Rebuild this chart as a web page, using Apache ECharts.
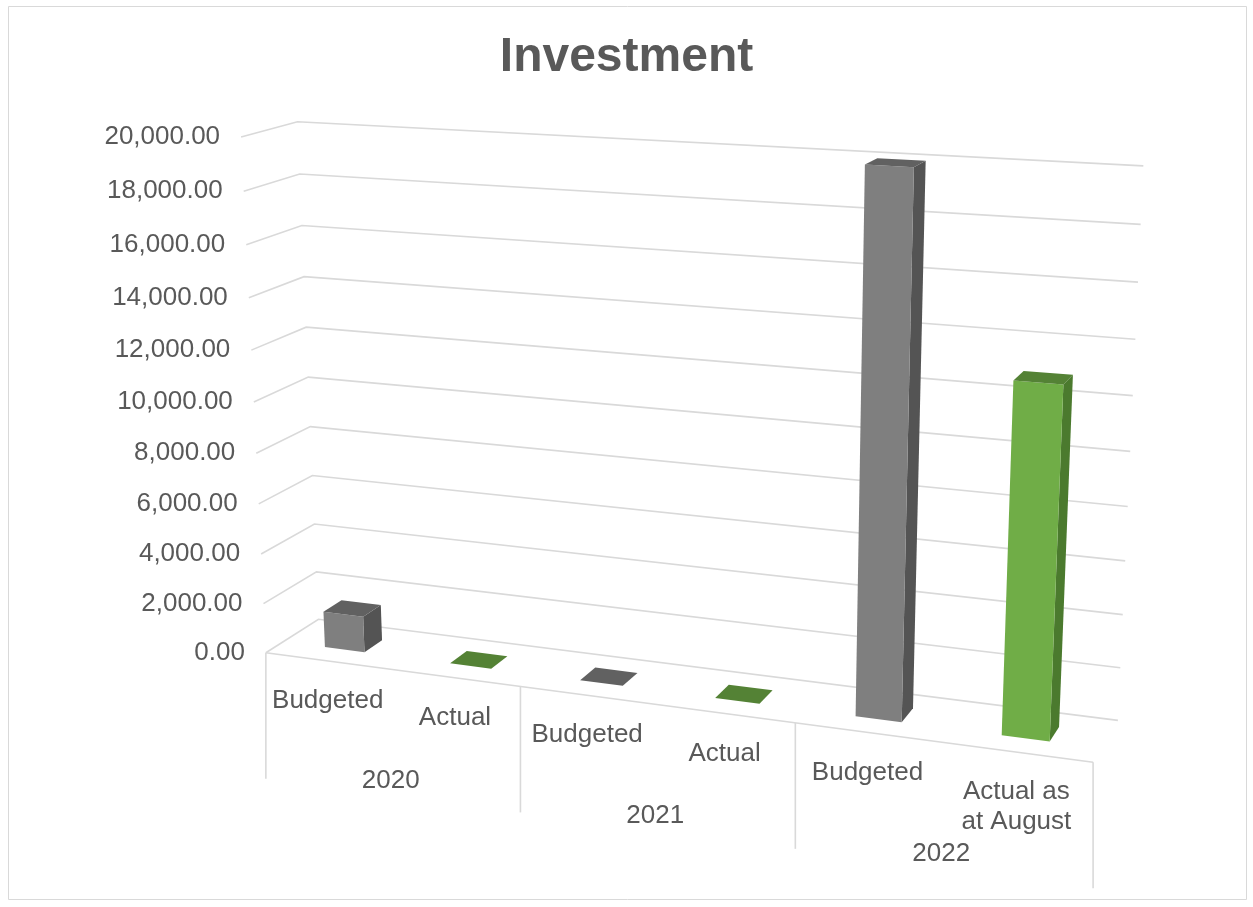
<!DOCTYPE html>
<html>
<head>
<meta charset="utf-8">
<title>Investment</title>
<script src="https://cdn.jsdelivr.net/npm/echarts@6/dist/echarts.min.js"></script>
<style>
  html, body { margin: 0; padding: 0; background: #ffffff; }
  #chart { width: 1253px; height: 907px; }
</style>
</head>
<body>
<div id="chart"></div>
<script>
// ---- data ----
const categories = ['Budgeted', 'Actual', 'Budgeted', 'Actual', 'Budgeted', 'Actual as\nat August'];
const years = ['2020', '2021', '2022'];
const values = [1450, 0, 0, 0, 20000, 12900];
const kinds = ['budget', 'actual', 'budget', 'actual', 'budget', 'actual'];
const tickValues = [0, 2000, 4000, 6000, 8000, 10000, 12000, 14000, 16000, 18000, 20000];
const tickLabels = ['0.00', '2,000.00', '4,000.00', '6,000.00', '8,000.00', '10,000.00',
  '12,000.00', '14,000.00', '16,000.00', '18,000.00', '20,000.00'];

// ---- 3D box layout ----
// World space: X runs across the category slots (0..n), Y is the value fraction (0..1),
// Z is depth (0 = front edge of the floor, 1 = back wall).
const SLOTS = categories.length;
const Y_MAX = tickValues[tickValues.length - 1];
const BAR_HALF = 0.16;        // half bar width, in slot units
const BAR_Z0 = 0.325, BAR_Z1 = 0.675;
const FONT = '"Liberation Sans", Arial, sans-serif';
const TEXT = '#595959';
const LINE = '#d9d9d9';
const COLORS = {
  budget: { front: '#7f7f7f', side: '#545454', top: '#616161' },
  actual: { front: '#70ad47', side: '#4b7a2e', top: '#548235' }
};

// Camera pins: box corners and where they land on the page.
const pins = [
  [0, 0, 0, 266, 653], [2, 0, 0, 521, 687], [4, 0, 0, 795, 723], [6, 0, 0, 1093, 762],
  [0, 0, 1, 318, 619], [6, 0, 1, 1118, 720],
  [0, 1, 1, 297, 122], [6, 1, 1, 1143, 166], [0, 1, 0, 241, 137],
  [0, 0.9, 1, 300, 174], [0, 0.1, 1, 317, 572], [0, 0.9, 0, 244, 191], [0, 0.1, 0, 263, 603],
  [6, 0.9, 1, 1141, 224], [6, 0.1, 1, 1120, 668], [6, 0.2, 1, 1123, 615]
];

function solveLinear(A, b) {
  const n = b.length;
  const M = A.map((r, i) => r.concat([b[i]]));
  for (let c = 0; c < n; c++) {
    let piv = c;
    for (let r = c + 1; r < n; r++) if (Math.abs(M[r][c]) > Math.abs(M[piv][c])) piv = r;
    const t = M[c]; M[c] = M[piv]; M[piv] = t;
    for (let r = 0; r < n; r++) {
      if (r === c) continue;
      const f = M[r][c] / M[c][c];
      for (let k = c; k <= n; k++) M[r][k] -= f * M[c][k];
    }
  }
  return M.map((r, i) => r[n] / r[i]);
}

// Least-squares perspective camera (3x4 matrix, last entry fixed to 1).
function fitCamera(list) {
  const S = 1000;
  const n = 11;
  const N = Array.from({ length: n }, () => new Array(n).fill(0));
  const rhs = new Array(n).fill(0);
  const add = (row, v) => {
    for (let i = 0; i < n; i++) {
      rhs[i] += row[i] * v;
      for (let j = 0; j < n; j++) N[i][j] += row[i] * row[j];
    }
  };
  list.forEach(([X, Y, Z, sx, sy]) => {
    const u = sx / S, v = sy / S;
    add([X, Y, Z, 1, 0, 0, 0, 0, -u * X, -u * Y, -u * Z], u);
    add([0, 0, 0, 0, X, Y, Z, 1, -v * X, -v * Y, -v * Z], v);
  });
  const p = solveLinear(N, rhs);
  return (X, Y, Z) => {
    const w = p[8] * X + p[9] * Y + p[10] * Z + 1;
    return [S * (p[0] * X + p[1] * Y + p[2] * Z + p[3]) / w,
            S * (p[4] * X + p[5] * Y + p[6] * Z + p[7]) / w];
  };
}
const project = fitCamera(pins);

// Map a (slot, value) pair through the hidden cartesian axes into world X / Y.
function toWorld(api, slot, value) {
  const o = api.coord([0, 0]);
  const e = api.coord([SLOTS, Y_MAX]);
  const c = api.coord([slot, value]);
  return [(c[0] - o[0]) / (e[0] - o[0]) * SLOTS, (c[1] - o[1]) / (e[1] - o[1])];
}

const chart = echarts.init(document.getElementById('chart'), null, { renderer: 'canvas' });

const option = {
  animation: false,
  backgroundColor: '#ffffff',
  title: {
    text: 'Investment',
    left: 'center',
    top: 29,
    textStyle: { fontFamily: FONT, fontSize: 48, fontWeight: 'bold', color: TEXT }
  },
  graphic: [{
    type: 'rect',
    shape: { x: 8.5, y: 6.5, width: 1238, height: 893 },
    style: { fill: null, stroke: LINE, lineWidth: 1 },
    silent: true
  }],
  grid: { left: 0, top: 0, width: 600, height: 500, show: false },
  xAxis: { type: 'value', min: 0, max: SLOTS, show: false },
  yAxis: { type: 'value', min: 0, max: Y_MAX, interval: 2000, show: false },
  series: [
    {
      // value gridlines on the side and back walls, with their tick labels
      type: 'custom',
      silent: true,
      z: 1,
      data: tickValues.map((v, i) => [0, v, i]),
      renderItem: function (params, api) {
        const w = toWorld(api, 0, api.value(1));
        const idx = api.value(2);
        const a = project(0, w[1], 0), b = project(0, w[1], 1), c = project(SLOTS, w[1], 1);
        const children = [{
          type: 'polyline',
          shape: { points: [a, b, c] },
          style: { stroke: LINE, lineWidth: 1.6, fill: null }
        }, {
          type: 'text',
          style: {
            text: tickLabels[idx], x: a[0] - 21, y: a[1],
            align: 'right', verticalAlign: 'middle',
            fill: TEXT, fontSize: 26, fontFamily: FONT
          }
        }];
        if (idx === 0) {
          children.push({
            type: 'line',
            shape: { x1: a[0], y1: a[1], x2: project(SLOTS, 0, 0)[0], y2: project(SLOTS, 0, 0)[1] },
            style: { stroke: LINE, lineWidth: 1.6 }
          });
        }
        return { type: 'group', children: children };
      }
    },
    {
      // category labels along the front edge of the floor
      type: 'custom',
      silent: true,
      z: 2,
      data: categories.map((c, i) => [i + 0.5, 0, i]),
      renderItem: function (params, api) {
        const w = toWorld(api, api.value(0), 0);
        const p = project(w[0], 0, 0);
        return {
          type: 'text',
          style: {
            text: categories[api.value(2)], x: p[0], y: p[1] + 25,
            align: 'center', verticalAlign: 'top', lineHeight: 30,
            fill: TEXT, fontSize: 26, fontFamily: FONT
          }
        };
      }
    },
    {
      // year groups: separator ticks and year labels
      type: 'custom',
      silent: true,
      z: 2,
      data: years.map((y, g) => [g * 2, 0, g]),
      renderItem: function (params, api) {
        const g = api.value(2);
        const left = toWorld(api, api.value(0), 0)[0];
        const right = toWorld(api, api.value(0) + 2, 0)[0];
        const mid = toWorld(api, api.value(0) + 1, 0)[0];
        const pl = project(left, 0, 0), pr = project(right, 0, 0), pm = project(mid, 0, 0);
        const children = [{
          type: 'line',
          shape: { x1: pl[0], y1: pl[1], x2: pl[0], y2: pl[1] + 126 },
          style: { stroke: LINE, lineWidth: 1.6 }
        }, {
          type: 'text',
          style: {
            text: years[g], x: pm[0], y: pm[1] + 112,
            align: 'center', verticalAlign: 'middle',
            fill: TEXT, fontSize: 26, fontFamily: FONT
          }
        }];
        if (g === years.length - 1) {
          children.push({
            type: 'line',
            shape: { x1: pr[0], y1: pr[1], x2: pr[0], y2: pr[1] + 126 },
            style: { stroke: LINE, lineWidth: 1.6 }
          });
        }
        return { type: 'group', children: children };
      }
    },
    {
      // 3D columns
      type: 'custom',
      silent: true,
      z: 3,
      data: values.map((v, i) => [i + 0.5, v, i]),
      renderItem: function (params, api) {
        const i = api.value(2);
        const col = COLORS[kinds[i]];
        const cx = toWorld(api, api.value(0), 0)[0];
        const h = toWorld(api, api.value(0), api.value(1))[1];
        const x0 = cx - BAR_HALF, x1 = cx + BAR_HALF;
        const z0 = BAR_Z0, z1 = BAR_Z1;
        const children = [];
        if (h > 0) {
          children.push({
            type: 'polygon',
            shape: { points: [project(x1, 0, z0), project(x1, 0, z1), project(x1, h, z1), project(x1, h, z0)] },
            style: { fill: col.side }
          });
          children.push({
            type: 'polygon',
            shape: { points: [project(x0, 0, z0), project(x1, 0, z0), project(x1, h, z0), project(x0, h, z0)] },
            style: { fill: col.front }
          });
        }
        children.push({
          type: 'polygon',
          shape: { points: [project(x0, h, z0), project(x1, h, z0), project(x1, h, z1), project(x0, h, z1)] },
          style: { fill: col.top }
        });
        return { type: 'group', children: children };
      }
    }
  ]
};

chart.setOption(option);
</script>
</body>
</html>
